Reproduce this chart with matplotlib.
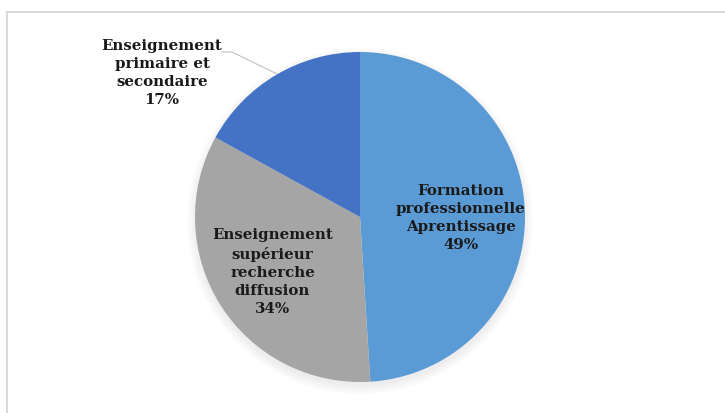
import matplotlib.pyplot as plt
from matplotlib.lines import Line2D
from matplotlib.patches import Circle

# Répartition des dépenses
labels = ['Formation\nprofessionnelle\nAprentissage',
          'Enseignement\nsupérieur\nrecherche\ndiffusion',
          'Enseignement\nprimaire et\nsecondaire']
values = [49, 34, 17]
colors = ['#5B9BD5', '#A5A5A5', '#4472C4']

W, H = 725, 414
fig = plt.figure(figsize=(W / 100, H / 100), dpi=100)
fig.set_facecolor('white')

# cadre gris (gauche + haut)
fig.add_artist(Line2D([7 / W, 7 / W], [0, 1 - 13 / H], transform=fig.transFigure, color='#D9D9D9', lw=1.5))
fig.add_artist(Line2D([7 / W, 1], [1 - 13 / H, 1 - 13 / H], transform=fig.transFigure, color='#D9D9D9', lw=1.5))

# axes carré autour du camembert
cx, cy, r = 360, 218, 165
ax = fig.add_axes([(cx - r) / W, (H - cy - r) / H, 2 * r / W, 2 * r / H])

# ombre légère
for i in range(6):
    ax.add_patch(Circle((0.0, -0.025), 1.0 + 0.01 * i, color='black', alpha=0.01, lw=0, zorder=0,
                        clip_on=False))

wedges, _ = ax.pie(values, colors=colors, startangle=90, counterclock=False, radius=1,
                   wedgeprops=dict(linewidth=0))
for w in wedges:
    w.set_zorder(2)

ax.set_xlim(-1, 1)
ax.set_ylim(-1, 1)
ax.axis('off')

font = dict(family='DejaVu Serif', weight='bold', size=10.8, color='#1a1a1a',
            ha='center', va='center', multialignment='center', linespacing=1.38, zorder=3)
ax.text(0.61, 0.0, f'{labels[0]}\n{values[0]}%', **font)
ax.text(-0.53, -0.33, f'{labels[1]}\n{values[1]}%', **font)
ax.text(-1.2, 0.88, f'{labels[2]}\n{values[2]}%', clip_on=False, **font)

# ligne de rappel
ax.plot([-0.836, -0.776, -0.503], [1.0, 1.0, 0.867], color='#BFBFBF', lw=0.8, clip_on=False, zorder=1)

fig.savefig('out.png', dpi=100)
